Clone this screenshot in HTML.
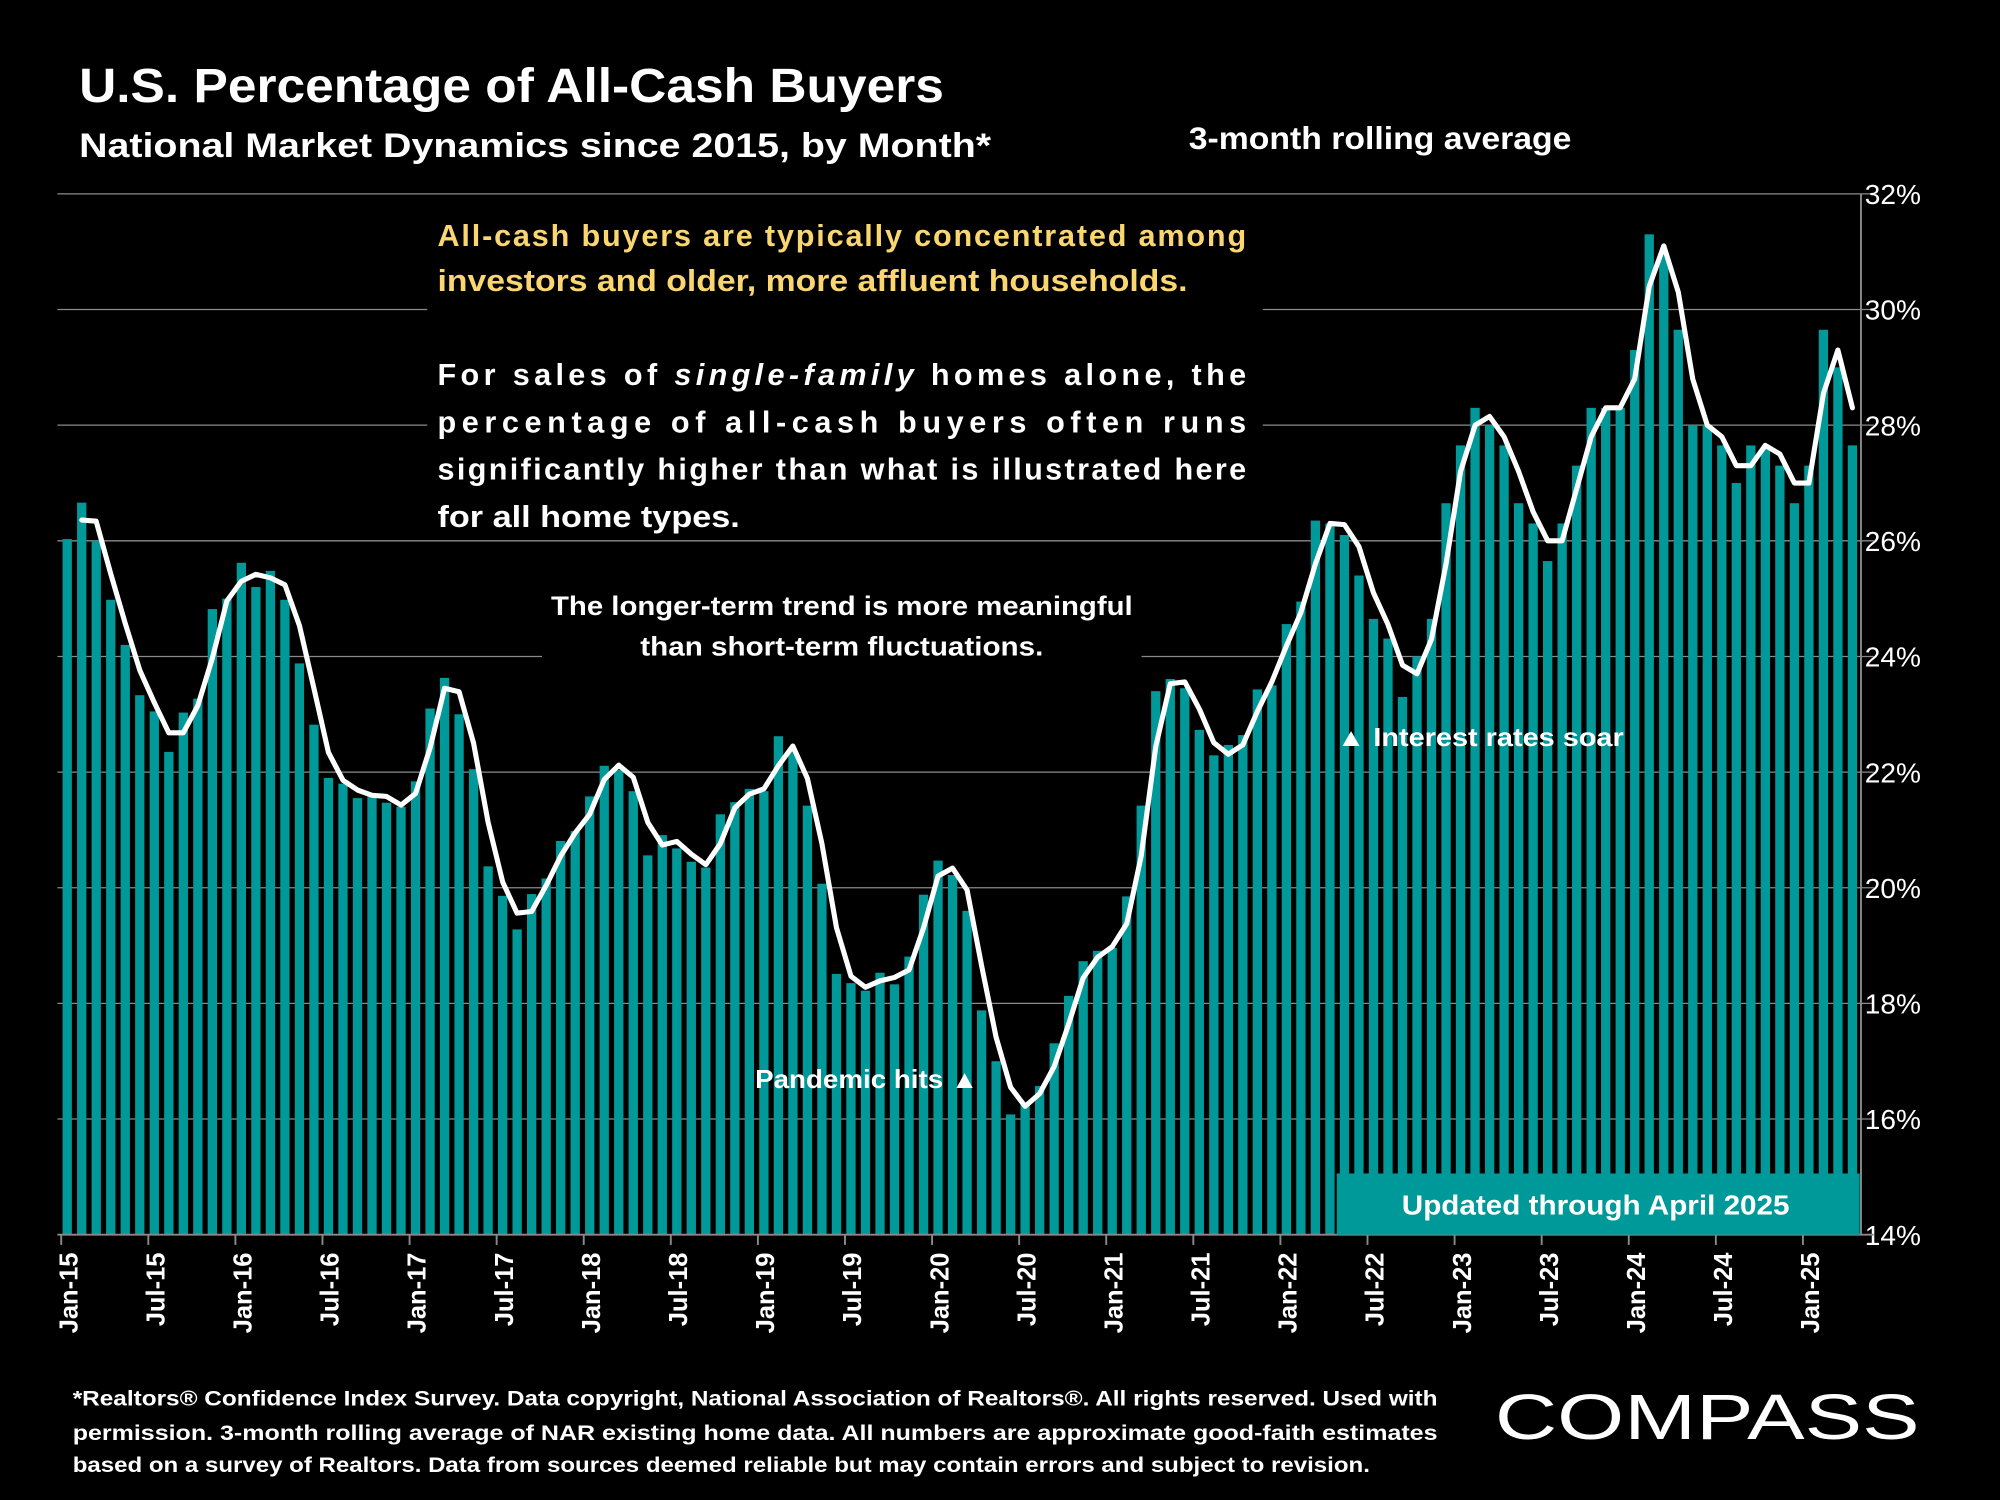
<!DOCTYPE html>
<html><head><meta charset="utf-8">
<style>
html,body{margin:0;padding:0;background:#000;}
svg{display:block;}
text{font-family:"Liberation Sans",sans-serif;fill:#fff;}
</style></head>
<body>
<svg id="chart" width="2000" height="1500" viewBox="0 0 1568 1176" xmlns="http://www.w3.org/2000/svg">
<rect x="0" y="0" width="1568" height="1176" fill="#000"/>
<g id="grid"></g>
<g id="bars"></g>
<g id="line"></g>
<g id="axes"></g>

<text x="62" y="80" font-size="38" font-weight="bold" textLength="678" lengthAdjust="spacingAndGlyphs">U.S. Percentage of All-Cash Buyers</text>
<text x="62" y="123" font-size="27" font-weight="bold" textLength="715" lengthAdjust="spacingAndGlyphs">National Market Dynamics since 2015, by Month*</text>
<text x="932" y="117" font-size="25" font-weight="bold" textLength="300" lengthAdjust="spacingAndGlyphs">3-month rolling average</text>

<rect x="335" y="163" width="655" height="257" fill="#000"/>
<g font-size="24" font-weight="bold">
<text x="343" y="193" style="fill:#f9d66f" textLength="634" lengthAdjust="spacing">All-cash buyers are typically concentrated among</text>
<text x="343" y="228" style="fill:#f9d66f" textLength="588" lengthAdjust="spacingAndGlyphs">investors and older, more affluent households.</text>
</g>
<g font-size="24" font-weight="bold">
<text x="343" y="302" textLength="634" lengthAdjust="spacing">For sales of <tspan font-style="italic">single-family</tspan> homes alone, the</text>
<text x="343" y="339" textLength="634" lengthAdjust="spacing">percentage of all-cash buyers often runs</text>
<text x="343" y="376" textLength="634" lengthAdjust="spacing">significantly higher than what is illustrated here</text>
<text x="343" y="413" textLength="237" lengthAdjust="spacingAndGlyphs">for all home types.</text>
</g>
<rect x="425" y="458" width="470" height="64" fill="#000"/>
<g font-size="21" font-weight="bold" text-anchor="middle">
<text x="660" y="482" textLength="456" lengthAdjust="spacingAndGlyphs">The longer-term trend is more meaningful</text>
<text x="660" y="514" textLength="316" lengthAdjust="spacingAndGlyphs">than short-term fluctuations.</text>
</g>
<text x="767" y="853" font-size="20" font-weight="bold" text-anchor="end" textLength="175" lengthAdjust="spacingAndGlyphs">Pandemic hits ▲</text>
<text x="1048" y="585" font-size="20" font-weight="bold" textLength="225" lengthAdjust="spacingAndGlyphs">▲ Interest rates soar</text>

<rect x="1048" y="920" width="410" height="48" fill="#009999"/>
<text x="1251" y="952" font-size="22" font-weight="bold" text-anchor="middle" textLength="304" lengthAdjust="spacingAndGlyphs">Updated through April 2025</text>

<g font-size="17" font-weight="bold">
<text x="57" y="1102" textLength="1070" lengthAdjust="spacingAndGlyphs">*Realtors® Confidence Index Survey. Data copyright, National Association of Realtors®. All rights reserved. Used with</text>
<text x="57" y="1129" textLength="1070" lengthAdjust="spacingAndGlyphs">permission. 3-month rolling average of NAR existing home data. All numbers are approximate good-faith estimates</text>
<text x="57" y="1154" textLength="1017" lengthAdjust="spacingAndGlyphs">based on a survey of Realtors. Data from sources deemed reliable but may contain errors and subject to revision.</text>
</g>
<text x="1172" y="1128" font-size="50" textLength="333" lengthAdjust="spacingAndGlyphs">COMPASS</text>
</svg>
<script>
const months = ["Jan","Feb","Mar","Apr","May","Jun","Jul","Aug","Sep","Oct","Nov","Dec"];
const startYear = 2015;
const barValues = [
26.03,26.66,26.0,24.98,24.2,23.33,23.05,22.35,23.03,23.27,24.82,25.0,
25.62,25.2,25.48,24.98,23.88,22.82,21.9,21.8,21.55,21.62,21.47,21.4,
21.84,23.1,23.63,23.0,22.05,20.37,19.86,19.28,19.89,20.16,20.81,20.98,
21.58,22.11,22.04,21.67,20.56,20.91,20.68,20.45,20.35,21.27,21.48,21.71,
21.67,22.62,22.36,21.42,20.07,18.51,18.35,18.22,18.53,18.33,18.81,19.88,
20.47,20.22,19.6,17.88,17.0,16.08,16.25,16.57,17.31,18.13,18.73,18.91,
18.96,19.85,21.42,23.4,23.61,23.45,22.73,22.29,22.47,22.64,23.43,23.5,
24.56,24.95,26.35,26.3,26.1,25.4,24.65,24.31,23.3,24.0,24.65,26.65,
27.65,28.3,28.0,27.65,26.65,26.3,25.65,26.3,27.3,28.3,28.3,28.3,
29.3,31.3,31.0,29.65,28.0,28.0,27.65,27.0,27.65,27.6,27.3,26.65,
27.3,29.65,29.0,27.65];
const lineValues = [
null,26.36,26.34,25.43,24.57,23.76,23.2,22.68,22.68,23.15,23.97,24.96,
25.3,25.42,25.36,25.24,24.53,23.45,22.34,21.86,21.69,21.6,21.58,21.43,
21.63,22.42,23.45,23.39,22.5,21.13,20.1,19.56,19.59,20.04,20.55,20.95,
21.27,21.87,22.12,21.91,21.13,20.74,20.8,20.58,20.4,20.76,21.38,21.62,
21.71,22.11,22.45,21.89,20.76,19.31,18.47,18.28,18.39,18.45,18.58,19.31,
20.2,20.34,19.96,18.65,17.42,16.55,16.22,16.44,16.91,17.64,18.44,18.8,
18.98,19.38,20.55,22.44,23.53,23.56,23.09,22.51,22.31,22.47,23.05,23.56,
24.18,24.76,25.6,26.3,26.28,25.9,25.1,24.55,23.85,23.7,24.3,25.6,
27.2,28.0,28.15,27.8,27.2,26.5,26.0,26.0,26.9,27.8,28.3,28.3,
28.8,30.4,31.1,30.3,28.8,28.0,27.8,27.3,27.3,27.65,27.5,27.0,
27.0,28.55,29.3,28.3];
const yTicks = [14,16,18,20,22,24,26,28,30,32];

const NS = "http://www.w3.org/2000/svg";
const X0 = 47, X1 = 1458, Y0 = 968, Y1 = 152, YMIN = 14, YMAX = 32;
const slot = (X1 - X0) / barValues.length;
function xScale(i){ return X0 + (i + 0.5) * slot; }
function yScale(v){ return Y0 - (v - YMIN) / (YMAX - YMIN) * (Y0 - Y1); }
function mk(tag, attrs, parent){ const e = document.createElementNS(NS, tag); for (const k in attrs) e.setAttribute(k, attrs[k]); parent.appendChild(e); return e; }

const grid = document.getElementById("grid");
const axes = document.getElementById("axes");
yTicks.forEach(t => {
  const y = yScale(t);
  if (t > YMIN) {
    const gl = mk("line", {x1: 45, x2: 1469, y1: y, y2: y, stroke: "#8a8a8a", "stroke-width": 1}, grid);
    
    
  }
  const lb = mk("text", {x: 1462, y: y + 8, "font-size": 22}, axes);
  lb.textContent = t + "%";
  
  
});

const barsG = document.getElementById("bars");
const bw = slot * 0.64;
barValues.forEach((v, i) => {
  const y = yScale(v);
  const r = mk("rect", {x: xScale(i) - bw / 2, y: y, width: bw, height: Y0 - y, fill: "#009999"}, barsG);
  
  
});

let d = "";
lineValues.forEach((v, i) => { if (v === null) return; d += (d ? "L" : "M") + xScale(i).toFixed(1) + "," + yScale(v).toFixed(1); });
const path = mk("path", {d: d, fill: "none", stroke: "#fff", "stroke-width": 4, "stroke-linejoin": "round", "stroke-linecap": "round"}, document.getElementById("line"));



// axes lines
const xa = mk("line", {x1: 45, x2: 1469, y1: Y0, y2: Y0, stroke: "#8a8a8a", "stroke-width": 1.5}, axes);


const ya = mk("line", {x1: X1 + 1, x2: X1 + 1, y1: Y1, y2: Y0, stroke: "#8a8a8a", "stroke-width": 1.5}, axes);



for (let i = 0; i < barValues.length; i += 6) {
  const x = xScale(i) - slot / 2 + 1;
  const tk = mk("line", {x1: x, x2: x, y1: Y0, y2: Y0 + 8, stroke: "#8a8a8a", "stroke-width": 1.5}, axes);
  
  
  const lab = months[i % 12] + "-" + String((startYear + Math.floor(i / 12)) % 100).padStart(2, "0");
  const tx = xScale(i) + 1;
  const t = mk("text", {x: 0, y: 0, "font-size": 20, "font-weight": "bold", "text-anchor": "end", transform: "translate(" + (tx + 7) + "," + (Y0 + 14) + ") rotate(-90)"}, axes);
  t.textContent = lab;
  
  
}
</script>
</body></html>
